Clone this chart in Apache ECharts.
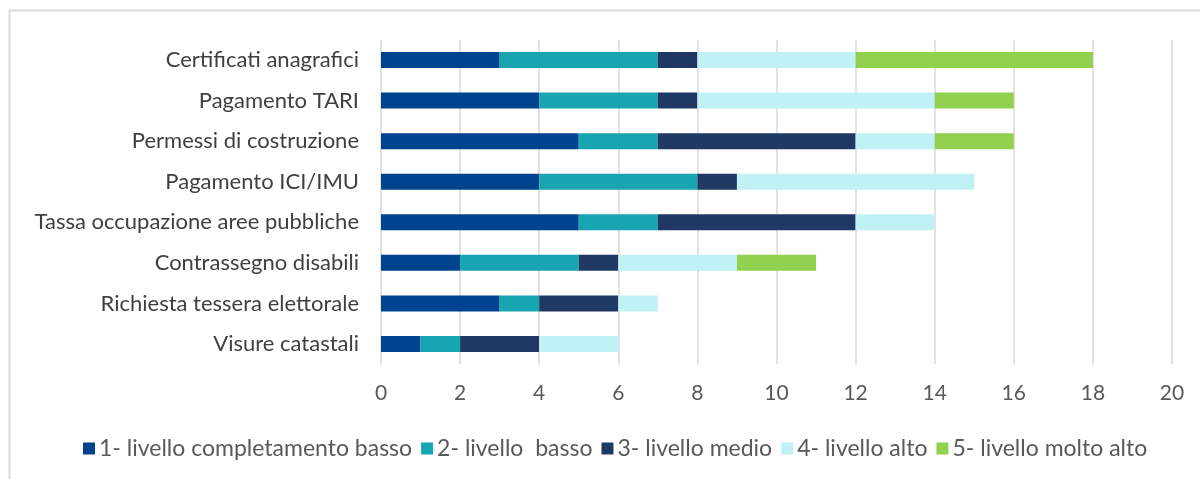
<!DOCTYPE html>
<html><head><meta charset="utf-8">
<script src="https://cdn.jsdelivr.net/npm/echarts@6/dist/echarts.min.js"></script>
<style>html,body{margin:0;padding:0;background:#fff}#c{width:1200px;height:479px}</style>
</head><body><div id="c"></div>
<script>
const categories = ["Certificati anagrafici","Pagamento TARI","Permessi di costruzione","Pagamento ICI/IMU","Tassa occupazione aree pubbliche","Contrassegno disabili","Richiesta tessera elettorale","Visure catastali"];
const seriesNames = ["1- livello completamento basso","2- livello  basso","3- livello medio","4- livello alto","5- livello molto alto"];
const livello1 = [3,4,5,4,5,2,3,1];
const livello2 = [4,3,2,4,2,3,1,1];
const livello3 = [1,1,5,1,5,1,2,2];
const livello4 = [4,6,2,6,2,3,1,2];
const livello5 = [6,2,2,0,0,2,0,0];
const xTicks = [0,2,4,6,8,10,12,14,16,18,20];
const colors = ["#00438E","#17A5B1","#203864","#C0F1F5","#92D050"];
const allData = [livello1,livello2,livello3,livello4,livello5];

const chart = echarts.init(document.getElementById('c'));
const font = 'Lato, "Open Sans", sans-serif';
chart.setOption({
  animation:false,
  textStyle:{fontFamily:font},
  graphic:[{type:'rect',shape:{x:9.5,y:10.5,width:1200,height:480},style:{fill:'none',stroke:'#d9d9d9',lineWidth:2},silent:true,z:-1}],
  grid:{left:381,right:28,top:39.7,height:324.6,containLabel:false},
  xAxis:{type:'value',min:xTicks[0],max:xTicks[xTicks.length-1],interval:2,
    axisLine:{show:false},axisTick:{show:false},
    splitLine:{show:true,lineStyle:{color:'#d9d9d9',width:1.5}},
    axisLabel:{color:'#595959',fontSize:21,margin:18,fontFamily:font}},
  yAxis:{type:'category',data:categories,inverse:true,
    axisLine:{show:false},axisTick:{show:false},
    axisLabel:{color:'#404040',fontSize:22,margin:22,fontFamily:font}},
  legend:{bottom:14,left:78,itemWidth:12,itemHeight:12,itemGap:9,icon:'rect',
    textStyle:{color:'#595959',fontSize:23,fontFamily:font,padding:[0,0,0,-1]},
    data:seriesNames},
  series:seriesNames.map((n,i)=>({name:n,type:'bar',stack:'s',barWidth:16,
    itemStyle:{color:colors[i]},data:allData[i]}))
});
</script></body></html>
